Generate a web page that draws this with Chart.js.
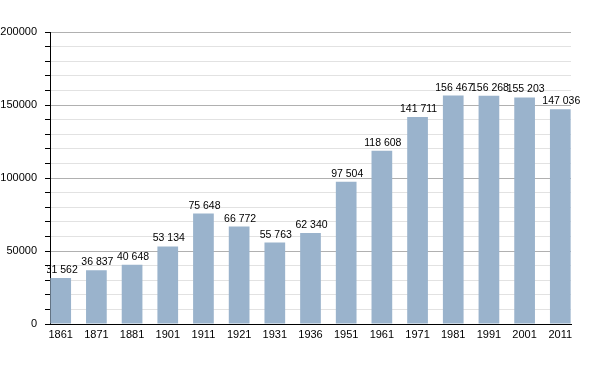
<!DOCTYPE html>
<html>
<head>
<meta charset="utf-8">
<script src="https://cdn.jsdelivr.net/npm/chart.js@4"></script>
<style>
  html, body { margin: 0; padding: 0; background: #fff; }
  #wrap { width: 600px; height: 373px; }
</style>
</head>
<body>
<div id="wrap"><canvas id="chart"></canvas></div>
<script>
const years = ['1861', '1871', '1881', '1901', '1911', '1921', '1931', '1936', '1951', '1961', '1971', '1981', '1991', '2001', '2011'];
const population = [31562, 36837, 40648, 53134, 75648, 66772, 55763, 62340, 97504, 118608, 141711, 156467, 156268, 155203, 147036];
const yTicks = [0, 50000, 100000, 150000, 200000];

// thousands with a space, like "31 562"
function fmt(v) {
    return String(v).replace(/\B(?=(\d{3})+(?!\d))/g, ' ');
}

// value labels over each bar, clipped near the y axis like the original
const barLabels = {
    id: 'barLabels',
    afterDatasetsDraw(chart) {
        const ctx = chart.ctx;
        const area = chart.chartArea;
        const meta = chart.getDatasetMeta(0);
        ctx.save();
        ctx.beginPath();
        ctx.rect(area.left - 3, 0, area.right - area.left + 40, area.bottom);
        ctx.clip();
        ctx.font = '10.5px "Liberation Sans", Arial, sans-serif';
        ctx.fillStyle = '#000';
        ctx.textAlign = 'center';
        ctx.textBaseline = 'alphabetic';
        meta.data.forEach((bar, i) => {
            ctx.fillText(fmt(population[i]), bar.x + 1, bar.y - 5);
        });
        ctx.restore();
    }
};

new Chart(document.getElementById('chart'), {
    type: 'bar',
    data: {
        datasets: [{
            data: population.map((v, i) => ({ x: i, y: v })),
            backgroundColor: '#9ab3cc',
            borderWidth: 0,
            barPercentage: 0.58,
            categoryPercentage: 1.0
        }]
    },
    options: {
        responsive: true,
        maintainAspectRatio: false,
        animation: false,
        layout: { padding: { top: 32, right: 29, left: 0, bottom: 0 } },
        plugins: { legend: { display: false }, tooltip: { enabled: false } },
        scales: {
            x: {
                type: 'linear',
                offset: false,
                min: -0.3,
                max: years.length - 1 + 0.3,
                afterFit: s => { s.height = 49; },
                afterBuildTicks: s => { s.ticks = years.map((_, i) => ({ value: i })); },
                grid: { display: false, drawTicks: false, offset: false },
                border: { color: '#000', width: 1 },
                ticks: {
                    color: '#000',
                    padding: 4,
                    maxRotation: 0,
                    autoSkip: false,
                    font: { family: '"Liberation Sans", Arial, sans-serif', size: 11 },
                    callback: v => years[v] || ''
                }
            },
            y: {
                min: 0,
                max: 200000,
                afterFit: s => { s.width = 50; },
                border: { color: '#000', width: 1 },
                grid: {
                    color: c => (c.tick && yTicks.includes(c.tick.value)) ? '#b0b0b0' : '#e2e2e2',
                    tickColor: '#000',
                    tickLength: 5
                },
                ticks: {
                    stepSize: 10000,
                    color: '#000',
                    padding: 8,
                    autoSkip: false,
                    font: { family: '"Liberation Sans", Arial, sans-serif', size: 11 },
                    callback: v => yTicks.includes(v) ? String(v) : ''
                }
            }
        }
    },
    plugins: [barLabels]
});
</script>
</body>
</html>
